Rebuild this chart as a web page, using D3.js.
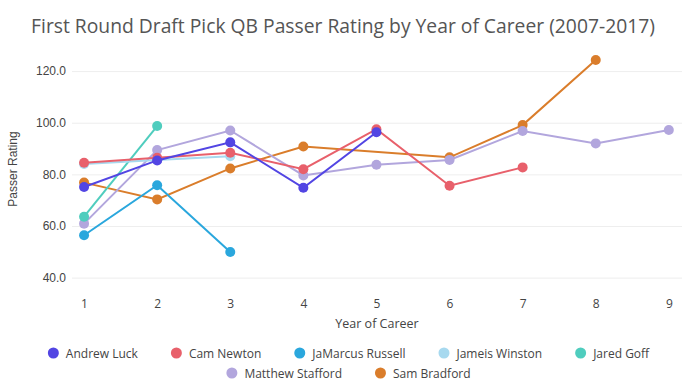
<!DOCTYPE html>
<html>
<head>
<meta charset="utf-8">
<script src="https://cdn.jsdelivr.net/npm/d3@7"></script>
<style>
  body { margin: 0; background: #fff; }
  svg { display: block; }
</style>
</head>
<body>
<div id="chart"></div>
<script>
// years of career on the x axis
const years = [1, 2, 3, 4, 5, 6, 7, 8, 9];
const yTicks = [40, 60, 80, 100, 120];

const players = ["Andrew Luck", "Cam Newton", "JaMarcus Russell", "Jameis Winston",
  "Jared Goff", "Matthew Stafford", "Sam Bradford"];
const colors = ["#5245e3", "#e8606b", "#2aa7dd", "#a7d9ef", "#4fcdbe", "#b2a6dd", "#da7d2b"];

// passer rating per year (null = no season)
const andrewLuck = [75.1, 85.4, 92.4, 74.8, 96.3];
const camNewton = [84.5, 86.4, 88.4, 82.0, 97.5, 75.6, 82.7];
const jamarcusRussell = [56.4, 75.8, 49.9];
const jameisWinston = [84.0, 85.6, 87.0];
const jaredGoff = [63.6, 98.7];
const matthewStafford = [60.9, 89.4, 97.0, 79.6, 83.7, 85.6, 96.8, 92.0, 97.2];
const samBradford = [76.8, 70.3, 82.3, 90.8, null, 86.6, 99.1, 124.3];

const seriesValues = [andrewLuck, camNewton, jamarcusRussell, jameisWinston,
  jaredGoff, matthewStafford, samBradford];

const W = 686, H = 386;
const margin = { top: 52, right: 4, bottom: 96, left: 72 };
const plotW = W - margin.left - margin.right;
const plotH = H - margin.top - margin.bottom;

const svg = d3.select("#chart").append("svg")
  .attr("width", W)
  .attr("height", H);

// title
svg.append("text")
  .attr("x", 343)
  .attr("y", 33)
  .attr("text-anchor", "middle")
  .style("font-family", "'Open Sans', sans-serif")
  .style("font-size", "19.3px")
  .style("fill", "#555")
  .text("First Round Draft Pick QB Passer Rating by Year of Career (2007-2017)");

const g = svg.append("g")
  .attr("transform", "translate(" + margin.left + "," + margin.top + ")");

const x = d3.scaleLinear()
  .domain([0.835, 9.18])
  .range([0, plotW]);

const y = d3.scaleLinear()
  .domain([35.2, 127.4])
  .range([plotH, 0]);

// y grid + labels
const yAxis = g.append("g")
  .call(d3.axisLeft(y).tickValues(yTicks).tickFormat(d3.format(".1f"))
    .tickSize(-plotW).tickPadding(6));
yAxis.select(".domain").remove();
yAxis.selectAll(".tick line").attr("stroke", "#eee");
yAxis.selectAll(".tick text")
  .style("font-family", "'Liberation Sans', Arial, sans-serif")
  .style("font-size", "12px")
  .style("fill", "#444");

// x labels
const xAxis = g.append("g")
  .attr("transform", "translate(0," + plotH + ")")
  .call(d3.axisBottom(x).tickValues(years).tickFormat(d3.format("d")).tickSize(0).tickPadding(9));
xAxis.select(".domain").remove();
xAxis.selectAll(".tick text")
  .style("font-family", "'Open Sans', sans-serif")
  .style("font-size", "12px")
  .style("fill", "#444");

// axis titles
svg.append("text")
  .attr("x", margin.left + plotW / 2)
  .attr("y", 328)
  .attr("text-anchor", "middle")
  .style("font-family", "'Open Sans', sans-serif")
  .style("font-size", "12.5px")
  .style("fill", "#444")
  .text("Year of Career");

svg.append("text")
  .attr("transform", "translate(17," + (margin.top + plotH / 2 - 2) + ") rotate(-90)")
  .attr("text-anchor", "middle")
  .style("font-family", "'Liberation Sans', Arial, sans-serif")
  .style("font-size", "12px")
  .style("fill", "#444")
  .text("Passer Rating");

// lines and markers; first player ends up on top
const line = d3.line()
  .x(d => x(d.year))
  .y(d => y(d.value));

for (let i = players.length - 1; i >= 0; i--) {
  const pts = seriesValues[i]
    .map((v, j) => ({ year: years[j], value: v }))
    .filter(d => d.value != null);
  const s = g.append("g");
  s.append("path")
    .datum(pts)
    .attr("d", line)
    .attr("fill", "none")
    .attr("stroke", colors[i])
    .attr("stroke-width", 2);
  s.selectAll("circle")
    .data(pts)
    .enter()
    .append("circle")
    .attr("cx", d => x(d.year))
    .attr("cy", d => y(d.value))
    .attr("r", 5)
    .attr("fill", colors[i]);
}

// legend, two centered rows
const rows = [players.slice(0, 5), players.slice(5)];
const rowY = [353, 373];
const legendCenter = 348.5;
rows.forEach((row, r) => {
  const lg = svg.append("g");
  let cx = 0;
  row.forEach(name => {
    const i = players.indexOf(name);
    const item = lg.append("g").attr("transform", "translate(" + cx + ",0)");
    item.append("circle")
      .attr("cx", 5.5)
      .attr("cy", 0)
      .attr("r", 5.5)
      .attr("fill", colors[i]);
    const t = item.append("text")
      .attr("x", 18)
      .attr("y", 4.5)
      .style("font-family", "'Open Sans', sans-serif")
      .style("font-size", "12px")
      .style("fill", "#444")
      .text(name);
    cx += 18 + t.node().getComputedTextLength() + 33;
  });
  const total = cx - 33;
  lg.attr("transform", "translate(" + (legendCenter - total / 2) + "," + rowY[r] + ")");
});
</script>
</body>
</html>
